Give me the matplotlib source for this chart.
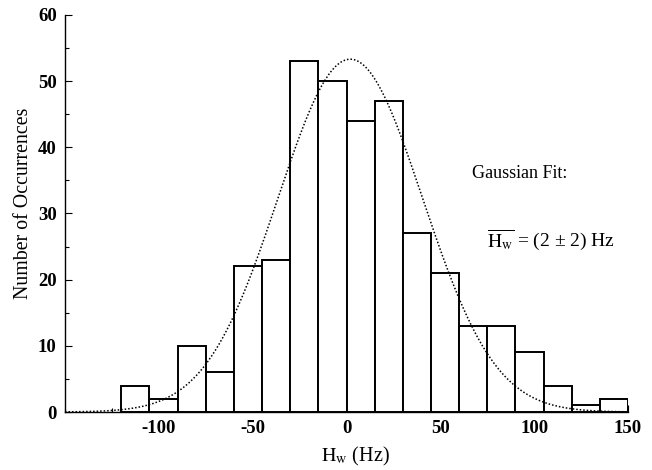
import numpy as np
import matplotlib
matplotlib.use("Agg")
import matplotlib.pyplot as plt
from matplotlib.ticker import MultipleLocator

# Histogram data (bin edges in Hz, counts)
bin_edges = [-120, -105, -90, -75, -60, -45, -30, -15, 0, 15, 30, 45, 60, 75, 90, 105, 120, 135, 150]
counts = [4, 2, 10, 6, 22, 23, 53, 50, 44, 47, 27, 21, 13, 13, 9, 4, 1, 2]

# Gaussian fit parameters
fit_mean = 2.0
fit_sigma = 38.5
fit_amp = 53.3

plt.rcParams['font.family'] = ['Liberation Serif', 'DejaVu Serif']
plt.rcParams['mathtext.fontset'] = 'stix'
plt.rcParams['axes.unicode_minus'] = False

fig = plt.figure(figsize=(6.52, 4.70), dpi=100)
ax = fig.add_axes([0.0997, 0.1234, 0.8635, 0.845])

lefts = np.array(bin_edges[:-1])
widths = np.diff(bin_edges)
ax.bar(lefts, counts, width=widths, align='edge', facecolor='white',
       edgecolor='black', linewidth=1.4, zorder=2)

xs = np.linspace(-150, 150, 600)
ys = fit_amp * np.exp(-(xs - fit_mean) ** 2 / (2 * fit_sigma ** 2))
ax.plot(xs, ys, color='black', linestyle=(0, (1, 1.3)), linewidth=1.1, zorder=3)

ax.set_xlim(-150, 150)
ax.set_ylim(0, 60)
ax.spines['top'].set_visible(False)
ax.spines['right'].set_visible(False)
ax.spines['left'].set_linewidth(1.0)
ax.spines['bottom'].set_linewidth(1.0)

ax.set_xticks([-100, -50, 0, 50, 100, 150])
ax.xaxis.set_minor_locator(MultipleLocator(25))
ax.yaxis.set_major_locator(MultipleLocator(10))
ax.yaxis.set_minor_locator(MultipleLocator(5))
ax.tick_params(which='both', direction='in', top=False, right=False)
ax.tick_params(which='major', length=5, width=0.8, labelsize=13.5, pad=6)
ax.tick_params(which='minor', length=3, width=0.8)
for lab in ax.get_xticklabels() + ax.get_yticklabels():
    lab.set_fontweight('bold')

ax.set_xlabel(r'$\mathrm{H_w}$ (Hz)', fontsize=14.5)
ax.set_ylabel('Number of Occurrences', fontsize=14.3)
ax.xaxis.set_label_coords(0.515, -0.083)
ax.yaxis.set_label_coords(-0.057, 0.526)

ax.text(67, 36.0, 'Gaussian Fit:', fontsize=13, ha='left', va='center')
ax.text(75, 26.0, r'$\overline{\mathrm{H_w}}$ = (2 ± 2) Hz', fontsize=14,
        ha='left', va='center')

fig.savefig('out.png', dpi=100)
